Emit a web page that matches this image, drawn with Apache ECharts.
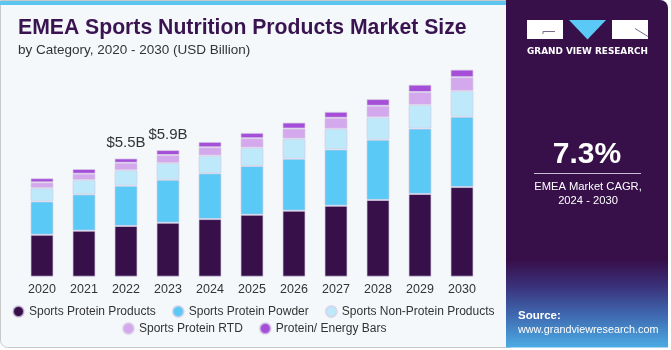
<!DOCTYPE html>
<html>
<head>
<meta charset="utf-8">
<script src="https://cdn.jsdelivr.net/npm/echarts@6/dist/echarts.min.js"></script>
<style>
  html, body { margin: 0; padding: 0; background: #ffffff; }
  #chart { width: 671px; height: 350px; }
</style>
</head>
<body>
<div id="chart"></div>
<script>
// values (USD billion)
const years = ['2020', '2021', '2022', '2023', '2024', '2025', '2026', '2027', '2028', '2029', '2030'];
const proteinProducts = [1.95, 2.14, 2.36, 2.51, 2.68, 2.88, 3.07, 3.30, 3.57, 3.85, 4.17];
const proteinPowder   = [1.55, 1.69, 1.87, 2.00, 2.13, 2.27, 2.42, 2.62, 2.80, 3.04, 3.27];
const nonProtein      = [0.62, 0.67, 0.72, 0.78, 0.82, 0.85, 0.93, 0.96, 1.04, 1.10, 1.20];
const proteinRTD      = [0.27, 0.29, 0.35, 0.37, 0.39, 0.44, 0.47, 0.51, 0.54, 0.60, 0.64];
const energyBars      = [0.19, 0.22, 0.20, 0.23, 0.25, 0.25, 0.28, 0.28, 0.31, 0.34, 0.35];
const annotations     = ['', '', '$5.5B', '$5.9B', '', '', '', '', '', '', ''];

const seriesNames = ['Sports Protein Products', 'Sports Protein Powder', 'Sports Non-Protein Products',
  'Sports Protein RTD', 'Protein/ Energy Bars'];
const seriesColors = ['#37104a', '#5bc9f6', '#bde9fa', '#d4a8ec', '#a54fd9'];
const seriesData = [proteinProducts, proteinPowder, nonProtein, proteinRTD, energyBars];

const FONT = '"Liberation Sans", Arial, sans-serif';

const chart = echarts.init(document.getElementById('chart'));

const series = seriesData.map(function (d, i) {
  const s = {
    name: seriesNames[i],
    type: 'bar',
    stack: 'total',
    data: d,
    barWidth: 23,
    itemStyle: { color: seriesColors[i], borderColor: 'rgba(215,205,230,0.7)', borderWidth: 1 },
    emphasis: { disabled: true }
  };
  if (i === seriesData.length - 1) {
    s.label = {
      show: true,
      position: 'top',
      distance: 8,
      fontFamily: FONT,
      fontSize: 15,
      color: '#333333',
      formatter: function (p) { return annotations[p.dataIndex]; }
    };
  }
  return s;
});

const legendText = { fontFamily: FONT, fontSize: 12, color: '#333333' };

chart.setOption({
  animation: false,
  graphic: [
    // left panel
    { type: 'rect', z: -10, shape: { x: 0.5, y: 0.5, width: 510, height: 347, r: [0, 0, 0, 7] },
      style: { fill: '#f4f8fb', stroke: '#c9c9c9', lineWidth: 1 } },
    { type: 'rect', z: -9, shape: { x: 0, y: 1, width: 507, height: 4 }, style: { fill: '#5cc6f0' } },
    { type: 'text', left: 18, top: 18, style: { text: 'EMEA Sports Nutrition Products Market Size',
      fontFamily: FONT, fontWeight: 'bold', fontSize: 21.2, fill: '#3a1450' } },
    { type: 'text', left: 18, top: 43, style: { text: 'by Category, 2020 - 2030 (USD Billion)',
      fontFamily: FONT, fontSize: 13.5, fill: '#333333' } },
    // right panel
    { type: 'rect', z: -8, shape: { x: 506, y: 0, width: 162, height: 347.5, r: [0, 8, 0, 0] },
      style: { fill: new echarts.graphic.LinearGradient(0, 0, 0, 1, [
        { offset: 0, color: '#37104a' },
        { offset: 0.75, color: '#37104a' },
        { offset: 0.82, color: '#3a2f78' },
        { offset: 0.91, color: '#3f6bb2' },
        { offset: 1, color: '#4cace4' }
      ]) } },
    // logo
    { type: 'rect', shape: { x: 527, y: 20, width: 36, height: 19 }, style: { fill: '#ffffff' } },
    { type: 'polyline', shape: { points: [[555, 31.5], [543, 31.5], [543, 34]] },
      style: { stroke: '#7a6a8a', lineWidth: 1, fill: null } },
    { type: 'polygon', shape: { points: [[569, 20], [606, 20], [587.5, 39.5]] }, style: { fill: '#5bc9f6' } },
    { type: 'rect', shape: { x: 612, y: 20, width: 36, height: 19 }, style: { fill: '#ffffff' } },
    { type: 'line', shape: { x1: 635, y1: 28.5, x2: 648, y2: 36.5 }, style: { stroke: '#7a6a8a', lineWidth: 1 } },
    { type: 'text', x: 587.5, y: 52, style: { text: 'GRAND VIEW RESEARCH', fontFamily: '"DejaVu Sans", sans-serif',
      fontWeight: 'bold', fontSize: 8.9, fill: '#ffffff', align: 'center', verticalAlign: 'middle' } },
    // CAGR
    { type: 'text', x: 587, y: 155, style: { text: '7.3%', fontFamily: FONT, fontWeight: 'bold', fontSize: 30,
      fill: '#ffffff', align: 'center', verticalAlign: 'middle' } },
    { type: 'line', shape: { x1: 534, y1: 173.5, x2: 641, y2: 173.5 }, style: { stroke: '#c9bcd6', lineWidth: 1 } },
    { type: 'text', x: 588, y: 187, style: { text: 'EMEA Market CAGR,', fontFamily: FONT, fontSize: 11.2,
      fill: '#ffffff', align: 'center', verticalAlign: 'middle' } },
    { type: 'text', x: 588, y: 201, style: { text: '2024 - 2030', fontFamily: FONT, fontSize: 11.2,
      fill: '#ffffff', align: 'center', verticalAlign: 'middle' } },
    // source
    { type: 'text', x: 518, y: 316, style: { text: 'Source:', fontFamily: FONT, fontWeight: 'bold', fontSize: 11.5,
      fill: '#ffffff', verticalAlign: 'middle' } },
    { type: 'text', x: 518, y: 330, style: { text: 'www.grandviewresearch.com', fontFamily: FONT, fontSize: 10.8,
      fill: '#ffffff', verticalAlign: 'middle' } }
  ],
  legend: [
    { data: seriesNames.slice(0, 3), left: 7, top: 300, icon: 'circle', itemWidth: 11, itemHeight: 11,
      itemGap: 16, textStyle: legendText, selectedMode: false },
    { data: seriesNames.slice(3), left: 117, top: 317, icon: 'circle', itemWidth: 11, itemHeight: 11,
      itemGap: 16, textStyle: legendText, selectedMode: false }
  ],
  grid: { left: 21, width: 462, top: 40.2, bottom: 73.3, containLabel: false },
  xAxis: {
    type: 'category',
    data: years,
    axisLine: { show: false },
    axisTick: { show: false },
    axisLabel: { fontFamily: FONT, fontSize: 12.5, color: '#333333', margin: 6 }
  },
  yAxis: { type: 'value', min: 0, max: 11, show: false, splitLine: { show: false } },
  series: series
});
</script>
</body>
</html>
